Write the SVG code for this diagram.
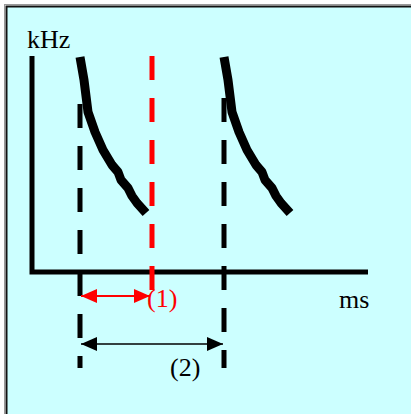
<svg xmlns="http://www.w3.org/2000/svg" width="411" height="414" viewBox="0 0 411 414">
<style>
.t{font-family:"Liberation Serif","Times New Roman",serif;font-size:26px;fill:#000}
.red{fill:#ff0000}
.axis{stroke:#000;stroke-width:5;fill:none}
.curve{stroke:#000;stroke-width:9;fill:none;stroke-linejoin:round}
.dash{stroke:#000;stroke-width:5;stroke-dasharray:24 18;fill:none}
.rdash{stroke:#ff0000;stroke-width:5;stroke-dasharray:24 18;fill:none}
</style>
<defs>
<marker id="ar" viewBox="0 0 16 14" refX="16" refY="7" markerWidth="16" markerHeight="14" markerUnits="userSpaceOnUse" orient="auto-start-reverse"><path d="M0,0 L16,7 L0,14 Z" fill="#ff0000"/></marker>
<marker id="ak" viewBox="0 0 16 14" refX="16" refY="7" markerWidth="16" markerHeight="14" markerUnits="userSpaceOnUse" orient="auto-start-reverse"><path d="M0,0 L16,7 L0,14 Z" fill="#000"/></marker>
</defs>
<rect x="0" y="0" width="411" height="414" fill="#fff"/>
<rect x="4.5" y="4.5" width="420" height="420" fill="none" stroke="#999" stroke-width="1"/>
<rect x="6.5" y="6.5" width="420" height="420" fill="#CCFFFF" stroke="#111" stroke-width="2"/>
<g id="axes">
<path class="axis" d="M32,56 V272 H368"/>
<text class="t" x="27" y="48">kHz</text>
<text class="t" x="339" y="308">ms</text>
</g>
<g id="curve1">
<path class="curve" d="M80,57 L84,80 L88,112 L95,132 L103,150 L112,165 L118,172 L121,180 L128,188 L132,196 L137,203 L146,213"/>
</g>
<g id="curve2">
<path class="curve" d="M224,57 L228,80 L232,112 L239,132 L247,150 L256,165 L262,172 L265,180 L272,188 L276,196 L281,203 L290,213"/>
</g>
<g id="connectors">
<path class="dash" d="M80,104 V368"/>
<path class="dash" d="M224,98 V368"/>
<path class="rdash" d="M152,56 V290"/>
<path d="M81,296 H150" stroke="#ff0000" stroke-width="2" marker-start="url(#ar)" marker-end="url(#ar)"/>
<path d="M81,344 H223" stroke="#000" stroke-width="1.5" marker-start="url(#ak)" marker-end="url(#ak)"/>
</g>
<g id="label1"><text class="t red" x="147" y="307">(1)</text></g>
<g id="label2"><text class="t" x="170" y="376">(2)</text></g>
</svg>
